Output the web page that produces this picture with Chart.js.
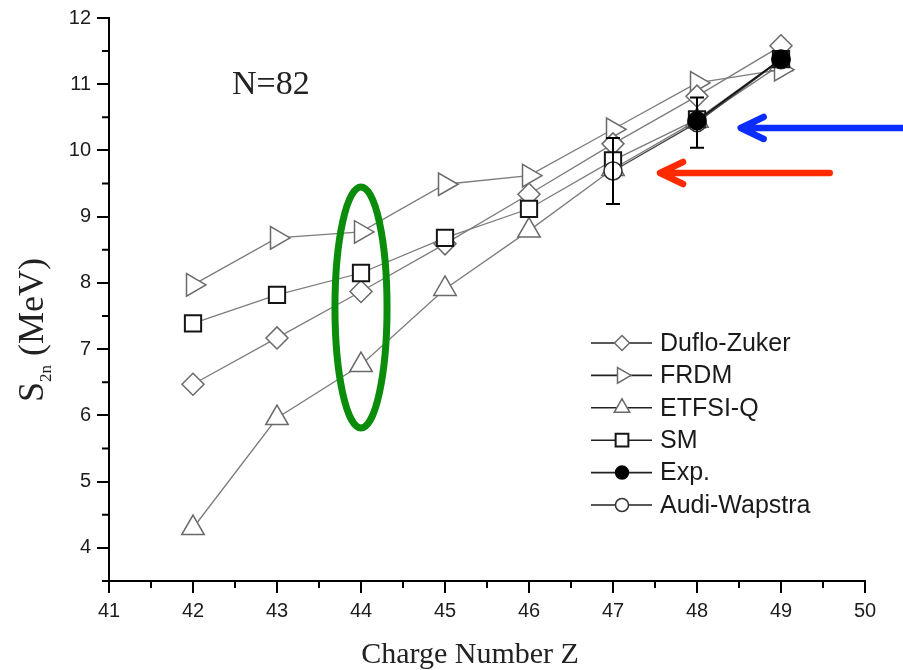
<!DOCTYPE html>
<html lang="en">
<head>
<meta charset="UTF-8">
<title>S2n for N=82 isotones</title>
<script src="https://cdn.jsdelivr.net/npm/chart.js"></script>
<style>
  html, body { margin: 0; padding: 0; background: #fff; }
  #wrap { width: 903px; height: 670px; }
</style>
</head>
<body>
<div id="wrap"><canvas id="s2nChart" width="903" height="670"></canvas></div>
<script>
    // charge numbers Z along the N=82 isotone chain
    const chargeZ = [42, 43, 44, 45, 46, 47, 48, 49];

    // two-neutron separation energies, MeV
    const dufloZuker = [6.47, 7.17, 7.87, 8.59, 9.34, 10.10, 10.82, 11.58];
    const frdm       = [7.97, 8.68, 8.77, 9.49, 9.62, 10.32, 11.02, 11.22];
    const etfsiQ     = [4.30, 5.96, 6.76, 7.91, 8.79, 9.72, 10.45, 11.30];
    const shellModel = [7.39, 7.82, 8.15, 8.68, 9.12, 9.85, 10.47, 11.38];

    const expZ   = [48, 49];
    const expS2n = [10.45, 11.38];

    const audiZ   = [47, 48, 49];
    const audiS2n = [9.69, 10.42, 11.37];
    const audiErr = [0.50, 0.38, 0];

    const xTickValues = [41, 42, 43, 44, 45, 46, 47, 48, 49, 50];
    const yTickValues = [4, 5, 6, 7, 8, 9, 10, 11, 12];

    function pts(xs, ys) {
        return xs.map((x, i) => ({ x: x, y: ys[i] }));
    }

    const grayLine = '#7c7c7c';
    const grayMark = '#6a6a6a';

    const datasets = [
        {
            label: 'Exp.', data: pts(expZ, expS2n), order: 0,
            borderColor: '#111', borderWidth: 1.6,
            pointStyle: 'circle', pointRadius: 9, pointBorderWidth: 1.5,
            pointBorderColor: '#000', pointBackgroundColor: '#000',
            legendRadius: 6.5
        },
        {
            label: 'Audi-Wapstra', data: pts(audiZ, audiS2n), order: 1,
            borderColor: '#444', borderWidth: 1.4,
            pointStyle: 'circle', pointRadius: 9, pointBorderWidth: 1.5,
            pointBorderColor: '#333', pointBackgroundColor: '#fff',
            legendRadius: 6.5
        },
        {
            label: 'SM', data: pts(chargeZ, shellModel), order: 2,
            borderColor: grayLine, borderWidth: 1.3,
            pointStyle: 'rect', pointRadius: 11.5, pointBorderWidth: 2,
            pointBorderColor: '#151515', pointBackgroundColor: '#fff',
            legendRadius: 9
        },
        {
            label: 'Duflo-Zuker', data: pts(chargeZ, dufloZuker), order: 3,
            borderColor: grayLine, borderWidth: 1.3,
            pointStyle: 'rectRot', pointRadius: 11, pointBorderWidth: 1.5,
            pointBorderColor: grayMark, pointBackgroundColor: '#fff',
            legendRadius: 7.5
        },
        {
            label: 'FRDM', data: pts(chargeZ, frdm), order: 4,
            borderColor: grayLine, borderWidth: 1.3,
            pointStyle: 'triangle', pointRotation: 90, pointRadius: 13, pointBorderWidth: 1.5,
            pointBorderColor: grayMark, pointBackgroundColor: '#fff',
            legendRadius: 9
        },
        {
            label: 'ETFSI-Q', data: pts(chargeZ, etfsiQ), order: 5,
            borderColor: grayLine, borderWidth: 1.3,
            pointStyle: 'triangle', pointRotation: 0, pointRadius: 13, pointBorderWidth: 1.5,
            pointBorderColor: grayMark, pointBackgroundColor: '#fff',
            legendRadius: 9
        }
    ];

    // legend rows, top to bottom
    const legendOrder = ['Duflo-Zuker', 'FRDM', 'ETFSI-Q', 'SM', 'Exp.', 'Audi-Wapstra'];

    // vertical error bars on the Audi-Wapstra points
    const errorBars = {
        id: 'errorBars',
        afterDatasetsDraw(chart) {
            const idx = chart.data.datasets.findIndex(d => d.label === 'Audi-Wapstra');
            const y = chart.scales.y, x = chart.scales.x;
            const ctx = chart.ctx;
            ctx.save();
            ctx.strokeStyle = '#000';
            ctx.lineWidth = 2;
            audiZ.forEach((z, i) => {
                if (!audiErr[i]) return;
                const px = x.getPixelForValue(z);
                const top = y.getPixelForValue(audiS2n[i] + audiErr[i]);
                const bot = y.getPixelForValue(audiS2n[i] - audiErr[i]);
                ctx.beginPath();
                ctx.moveTo(px, top); ctx.lineTo(px, bot);
                ctx.moveTo(px - 7, top); ctx.lineTo(px + 7, top);
                ctx.moveTo(px - 7, bot); ctx.lineTo(px + 7, bot);
                ctx.stroke();
            });
            ctx.restore();
        }
    };

    // minor ticks, axis titles, legend and the hand-drawn marks
    const decorations = {
        id: 'decorations',
        afterDraw(chart) {
            const ctx = chart.ctx;
            const x = chart.scales.x, y = chart.scales.y;
            const area = chart.chartArea;
            ctx.save();

            // minor ticks at half units
            ctx.strokeStyle = '#000';
            ctx.lineWidth = 2;
            ctx.beginPath();
            for (let v = 41.5; v < 50; v += 1) {
                const px = x.getPixelForValue(v);
                ctx.moveTo(px, area.bottom); ctx.lineTo(px, area.bottom + 7);
            }
            for (let v = 3.5; v < 12; v += 1) {
                const py = y.getPixelForValue(v);
                ctx.moveTo(area.left - 7, py); ctx.lineTo(area.left, py);
            }
            ctx.stroke();

            // x axis title
            ctx.fillStyle = '#222';
            ctx.font = '30px "Liberation Serif", "Times New Roman", serif';
            ctx.textAlign = 'center';
            ctx.textBaseline = 'alphabetic';
            ctx.fillText('Charge Number Z', (area.left + area.right) / 2 - 17, 663);

            // y axis title with subscript
            ctx.save();
            ctx.translate(43, 330);
            ctx.rotate(-Math.PI / 2);
            const big = '36px "Liberation Serif", "Times New Roman", serif';
            const small = '17px "Liberation Serif", "Times New Roman", serif';
            ctx.font = big;
            const wS = ctx.measureText('S').width;
            const wTail = ctx.measureText(' (MeV)').width;
            ctx.font = small;
            const wSub = ctx.measureText('2n').width;
            let cx = -(wS + wSub + wTail) / 2;
            ctx.textAlign = 'left';
            ctx.font = big;
            ctx.fillText('S', cx, 0);
            cx += wS;
            ctx.font = small;
            ctx.fillText('2n', cx, 8);
            cx += wSub;
            ctx.font = big;
            ctx.fillText(' (MeV)', cx, 0);
            ctx.restore();

            // isotone label
            ctx.font = '34px "Liberation Serif", "Times New Roman", serif';
            ctx.textAlign = 'left';
            ctx.fillText('N=82', area.left + 123, area.top + 76);

            // legend
            const lx0 = area.right - 274, lx1 = area.right - 213, sx = area.right - 243;
            const tx = area.right - 205;
            ctx.font = '25px "Liberation Sans", Arial, sans-serif';
            ctx.textBaseline = 'middle';
            legendOrder.forEach((name, i) => {
                const ds = chart.data.datasets.find(d => d.label === name);
                const ly = area.bottom - 238 + i * 32.4;
                ctx.strokeStyle = '#222';
                ctx.lineWidth = 1.6;
                ctx.beginPath();
                ctx.moveTo(lx0, ly); ctx.lineTo(lx1, ly);
                ctx.stroke();
                ctx.fillStyle = ds.pointBackgroundColor;
                ctx.strokeStyle = ds.pointBorderColor;
                ctx.lineWidth = ds.pointBorderWidth;
                Chart.helpers.drawPoint(ctx, {
                    pointStyle: ds.pointStyle,
                    rotation: ds.pointRotation || 0,
                    radius: ds.legendRadius,
                    borderWidth: ds.pointBorderWidth
                }, sx, ly);
                ctx.fillStyle = '#1a1a1a';
                ctx.fillText(name, tx, ly + 1);
            });

            // green ring around the Z=44 column
            ctx.strokeStyle = '#0b8c0b';
            ctx.lineWidth = 7;
            const ex = x.getPixelForValue(44), ey = y.getPixelForValue(7.63);
            const rx = x.getPixelForValue(44.31) - ex;
            const ry = ey - y.getPixelForValue(9.45);
            ctx.beginPath();
            ctx.ellipse(ex, ey, rx, ry, 0, 0, Math.PI * 2);
            ctx.stroke();

            // arrows pointing at Z=48 and Z=47
            function arrow(color, tipZ, tailZ, s2n) {
                const tx0 = x.getPixelForValue(tipZ), tx1 = x.getPixelForValue(tailZ);
                const ty = y.getPixelForValue(s2n);
                ctx.strokeStyle = color;
                ctx.lineWidth = 6.5;
                ctx.lineCap = 'round';
                ctx.lineJoin = 'round';
                ctx.beginPath();
                ctx.moveTo(tx1, ty); ctx.lineTo(tx0 + 2, ty);
                ctx.moveTo(tx0 + 23, ty - 11); ctx.lineTo(tx0, ty); ctx.lineTo(tx0 + 23, ty + 11);
                ctx.stroke();
            }
            arrow('#0b2cff', 48.52, 50.6, 10.34);
            arrow('#ff2a00', 47.56, 49.58, 9.66);

            ctx.restore();
        }
    };

    const tickFont = { family: '"Liberation Sans", Arial, sans-serif', size: 20 };

    new Chart(document.getElementById('s2nChart'), {
        type: 'line',
        data: { datasets: datasets },
        options: {
            responsive: false,
            animation: false,
            layout: { padding: { top: 17, right: 38, bottom: 0, left: 0 } },
            plugins: { legend: { display: false }, tooltip: { enabled: false } },
            elements: { line: { tension: 0, fill: false } },
            scales: {
                x: {
                    type: 'linear', min: 41, max: 50,
                    afterFit(s) { s.height = 89; },
                    afterBuildTicks(s) { s.ticks = xTickValues.map(v => ({ value: v })); },
                    ticks: { font: tickFont, color: '#1c1c1c', padding: 6, maxRotation: 0 },
                    grid: { drawOnChartArea: false, tickLength: 12, color: '#000', lineWidth: 2 },
                    border: { color: '#000', width: 2 }
                },
                y: {
                    type: 'linear', min: 3.5, max: 12,
                    afterFit(s) { s.width = 109; },
                    afterBuildTicks(s) { s.ticks = yTickValues.map(v => ({ value: v })); },
                    ticks: { font: tickFont, color: '#1c1c1c', padding: 6 },
                    grid: { drawOnChartArea: false, tickLength: 12, color: '#000', lineWidth: 2 },
                    border: { color: '#000', width: 2 }
                }
            }
        },
        plugins: [errorBars, decorations]
    });
</script>
</body>
</html>
